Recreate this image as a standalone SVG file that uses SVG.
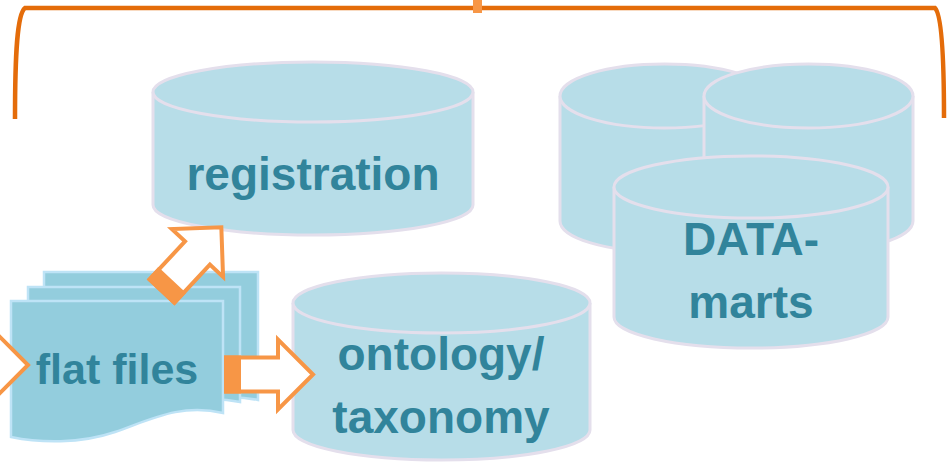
<svg xmlns="http://www.w3.org/2000/svg" width="951" height="462" viewBox="0 0 951 462">
<style>
.cyl{fill:#B7DDE8;stroke:#E4DFEC;stroke-width:3}
.doc{fill:#93CDDD;stroke:#BEE3F6;stroke-width:2.5}
.lbl{font-family:"Liberation Sans",Arial,sans-serif;font-weight:bold;font-size:46px;fill:#31849B;text-anchor:middle}
.brace{fill:none;stroke:#E46C0A;stroke-width:4.5}
.arw{fill:#FFFFFF;stroke:#F79646;stroke-width:4;stroke-linejoin:miter}
</style>
<defs>
<g id="blockArrow">
<polygon class="arw" points="0,-17 52,-17 52,-35 87,0 52,35 52,17 0,17"/>
<rect x="-2" y="-19" width="17" height="38" fill="#F79646"/>
</g>
</defs>
<g id="brace">
<path class="brace" d="M15,119 C15,55 17,14 25,8 H935 C941,14 944,55 944,118"/>
<rect x="473" y="0" width="9" height="13" fill="#F79646"/>
</g>
<g id="registration">
<path class="cyl" d="M153,92 V205 A160,30 0 0 0 473,205 V92"/>
<ellipse class="cyl" cx="313" cy="92" rx="160" ry="30"/>
<text class="lbl" x="313" y="190">registration</text>
</g>
<g id="datamarts">
<path class="cyl" d="M560,96 V221 A104.5,31 0 0 0 769,221 V96"/>
<ellipse class="cyl" cx="664.5" cy="96" rx="104.5" ry="32"/>
<path class="cyl" d="M704,96 V221 A104.5,31 0 0 0 913,221 V96"/>
<ellipse class="cyl" cx="808.5" cy="96" rx="104.5" ry="32"/>
<path class="cyl" d="M614,187 V317 A137,31 0 0 0 888,317 V187"/>
<ellipse class="cyl" cx="751" cy="187" rx="137" ry="31"/>
<text class="lbl" x="751" y="255">DATA-</text>
<text class="lbl" x="751" y="318">marts</text>
</g>
<g id="ontology">
<path class="cyl" d="M293,303 V430 A148.5,30 0 0 0 590,430 V303"/>
<ellipse class="cyl" cx="441.5" cy="303" rx="148.5" ry="30"/>
<text class="lbl" x="441" y="370">ontology/</text>
<text class="lbl" x="441" y="433">taxonomy</text>
</g>
<g id="flatfiles">
<path class="doc" d="M44,272 H258 V400 C215,392 185,405 150,418 C115,430 75,430 44,425 Z"/>
<path class="doc" d="M28,287 H240 V402 C198,393 168,407 132,420 C97,432 58,432 28,426 Z"/>
<path class="doc" d="M11,301 H223 V413 C180,403 150,420 115,432 C80,444 40,443 11,437 Z"/>
<text class="lbl" x="117" y="384" style="font-size:43px">flat files</text>
</g>
<g id="connectors">
<use href="#blockArrow" transform="translate(226,374.5)"/>
<use href="#blockArrow" transform="translate(162,291) rotate(-47)"/>
<use href="#blockArrow" transform="translate(-59,365)"/>
</g>
</svg>
